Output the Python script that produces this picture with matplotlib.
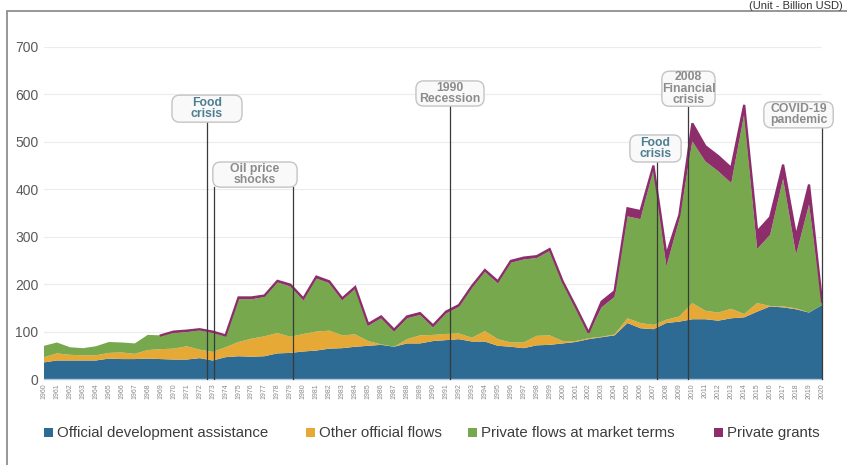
import matplotlib
matplotlib.use("Agg")
import matplotlib.pyplot as plt
from matplotlib.patches import FancyBboxPatch, Rectangle
import numpy as np

plt.rcParams["font.family"] = ["Liberation Sans", "DejaVu Sans"]

# Resource flows to developing countries, billion USD
years = list(range(1960, 2021))

oda = [35, 39, 39, 39, 39, 43, 42, 42, 43, 42,
       41, 41, 44, 39, 46, 48, 47, 48, 54, 55,
       58, 60, 64, 65, 68, 70, 72, 68, 75, 75,
       80, 82, 84, 79, 79, 70, 68, 65, 71, 72,
       75, 78, 84, 88, 92, 118, 107, 105, 118, 121,
       126, 126, 123, 128, 130, 142, 153, 151, 147, 140,
       156]

other_official = [11, 15, 12, 11, 11, 12, 14, 11, 18, 21,
                  23, 28, 18, 18, 21, 30, 38, 42, 43, 34,
                  37, 40, 38, 27, 26, 10, 1, 0, 9, 17,
                  13, 13, 12, 8, 22, 14, 9, 12, 20, 20,
                  5, 2, 2, 1, 2, 10, 11, 9, 7, 11,
                  34, 18, 17, 20, 7, 18, 1, 2, 2, 0,
                  0]

private_market = [24, 23, 16, 15, 19, 23, 21, 22, 32, 29,
                  33, 30, 41, 40, 23, 90, 83, 83, 107, 106,
                  71, 112, 100, 74, 96, 32, 55, 32, 44, 43,
                  16, 43, 56, 105, 125, 118, 168, 175, 164, 178,
                  123, 70, 9, 62, 79, 215, 219, 328, 112, 204,
                  341, 315, 298, 265, 421, 114, 150, 269, 113, 228,
                  4]

private_grants = [0, 0, 0, 0, 0, 0, 0, 0, 0, 0,
                  3, 3, 2, 3, 2, 4, 4, 3, 3, 4,
                  4, 4, 4, 4, 4, 4, 4, 4, 4, 4,
                  4, 4, 4, 4, 4, 4, 4, 4, 4, 4,
                  3, 3, 3, 12, 12, 17, 17, 8, 25, 10,
                  38, 32, 32, 32, 20, 37, 37, 30, 39, 42,
                  3]

series_labels = ["Official development assistance", "Other official flows",
                 "Private flows at market terms", "Private grants"]
series_colors = ["#2d6a94", "#e7a936", "#77a84d", "#8d2d6c"]

# Event callouts: (label, line years, box centre year, box centre value, box width yrs, box height, text colour)
events = [
    ("Food\ncrisis", [1972.6], 1972.57, 570, 5.4, 57, "#4f7e92"),
    ("Oil price\nshocks", [1973.1, 1979.2], 1976.27, 431, 6.5, 53, "#8c8c8c"),
    ("1990\nRecession", [1991.3], 1991.31, 602, 5.25, 53, "#8c8c8c"),
    ("Food\ncrisis", [2007.25], 2007.16, 486, 3.95, 57, "#4f7e92"),
    ("2008\nFinancial\ncrisis", [2009.7], 2009.7, 612, 4.1, 74, "#8c8c8c"),
    ("COVID-19\npandemic", [2020.0], 2018.19, 557, 5.35, 55, "#8c8c8c"),
]

W, H = 847, 465
fig = plt.figure(figsize=(W / 100, H / 100), dpi=100)
fig.patch.set_facecolor("white")

# outer frame (runs off the right and bottom edges)
fig.patches.append(Rectangle((7 / W, -0.2), 1.2, 1.2 - 11 / H,
                             transform=fig.transFigure, fill=False,
                             edgecolor="#8f8f8f", linewidth=1.3))
fig.text(843 / W, 1 - 1 / H, "(Unit - Billion USD)", fontsize=8,
         color="#333333", ha="right", va="top")

ax = fig.add_axes([44 / W, 1 - 379 / H, (822 - 44) / W, (379 - 47) / H])
ax.set_facecolor("white")

x = np.array(years)
stack = [np.array(oda), np.array(other_official),
         np.array(private_market), np.array(private_grants)]
ax.stackplot(x, *stack, colors=series_colors, linewidth=0, zorder=2)

# grants outline, only where grants are present
grants = np.array(private_grants)
total = np.sum(stack, axis=0).astype(float)
has = grants > 0
keep = has | np.r_[has[1:], False] | np.r_[False, has[:-1]]
outline = np.where(keep, total, np.nan)
ax.plot(x, outline, color=series_colors[3], linewidth=1.6, zorder=3,
        solid_joinstyle="miter")

ax.set_xlim(1960, 2020)
ax.set_ylim(0, 700)
ax.set_yticks(range(0, 701, 100))
ax.yaxis.grid(True, color="#ececec", linewidth=0.8, zorder=0)
ax.set_axisbelow(True)
ax.tick_params(axis="y", length=0, pad=4, labelsize=10, labelcolor="#5a5a5a")
ax.set_xticks(years)
ax.set_xticklabels([str(y) for y in years], rotation=90, fontsize=5,
                   color="#8a8a8a")
ax.tick_params(axis="x", length=0, pad=3)
for side in ["left", "right", "top"]:
    ax.spines[side].set_visible(False)
ax.spines["bottom"].set_color("#b4c6da")
ax.spines["bottom"].set_linewidth(1.0)

# px -> data aspect for rounded corners
aspect = (700 / (379 - 47)) / (60 / (822 - 44))
for label, lines, cx, cy, bw, bh, tcol in events:
    bottom = cy - bh / 2
    for lx in lines:
        ax.plot([lx, lx], [0, bottom], color="#3a3a3a", linewidth=0.9,
                zorder=4, clip_on=False)
    box = FancyBboxPatch((cx - bw / 2, bottom), bw, bh,
                         boxstyle="round,pad=0,rounding_size=0.6",
                         mutation_aspect=aspect,
                         facecolor="#f9f9f9", edgecolor="#c4c4c4",
                         linewidth=1.0, zorder=5, clip_on=False)
    ax.add_patch(box)
    ax.text(cx, cy, label, ha="center", va="center", fontsize=8.8,
            color=tcol, linespacing=0.92, zorder=6, fontweight="bold")

# legend row
legend_x = [44, 306, 468, 714]
for lx, lab, col in zip(legend_x, series_labels, series_colors):
    fig.patches.append(Rectangle((lx / W, 1 - 437 / H), 9 / W, 9 / H,
                                 transform=fig.transFigure,
                                 facecolor=col, edgecolor="none"))
    fig.text((lx + 13) / W, 1 - 433 / H, lab, fontsize=10.8,
             color="#3d3d3d", ha="left", va="center")

fig.savefig("out.png", dpi=100)
